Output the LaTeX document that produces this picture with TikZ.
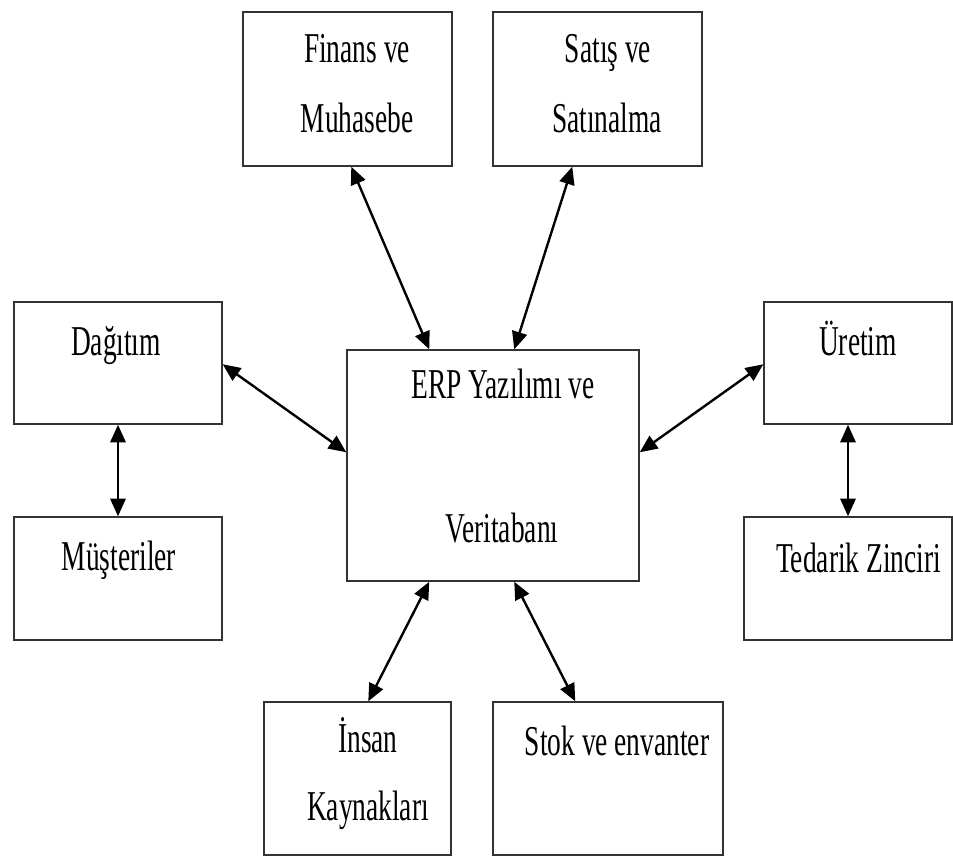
\documentclass[tikz,border=0pt]{standalone}
\usepackage{fontspec}
\setmainfont{Liberation Serif}
\usepackage{graphicx}
\usetikzlibrary{arrows.meta,calc}

\newcommand{\tallword}[1]{\scalebox{1}[1.55]{#1}}

\begin{document}
\begin{tikzpicture}[
  x=0.025cm, y=-0.025cm,
  font=\fontsize{19.5}{23}\selectfont,
  box/.style={draw=black!80, line width=1pt, rectangle, inner sep=0pt},
  txt/.style={inner sep=0pt, anchor=base},
  arr/.style={{Triangle[length=4.4mm,width=3.8mm]}-{Triangle[length=4.4mm,width=3.8mm]}, line width=1.7pt},
]
  \useasboundingbox (0,0) rectangle (953,856);

  % blocks
  \node[box, minimum width=5.225cm, minimum height=3.85cm] (fin) at (347.5,89) {};
  \node[box, minimum width=5.225cm, minimum height=3.85cm] (sat) at (597.5,89) {};
  \node[box, minimum width=5.2cm, minimum height=3.05cm] (dag) at (118,363) {};
  \node[box, minimum width=4.7cm, minimum height=3.05cm] (ure) at (858,363) {};
  \node[box, minimum width=7.3cm, minimum height=5.775cm] (erp) at (493,465.5) {};
  \node[box, minimum width=5.2cm, minimum height=3.075cm] (mus) at (118,578.5) {};
  \node[box, minimum width=5.2cm, minimum height=3.075cm] (ted) at (848,578.5) {};
  \node[box, minimum width=4.675cm, minimum height=3.825cm] (ins) at (357.5,778.5) {};
  \node[box, minimum width=5.75cm, minimum height=3.825cm] (stk) at (608,778.5) {};

  % texts
  \node[txt] (fin1) at (357,62) {\tallword{Finans ve}};
  \node[txt] (fin2) at (357,132) {\tallword{Muhasebe}};
  \node[txt] (sat1) at (608,62) {\tallword{Satış ve}};
  \node[txt] (sat2) at (607,132) {\tallword{Satınalma}};
  \node[txt] (dag1) at (116,355) {\tallword{Dağıtım}};
  \node[txt] (mus1) at (119,570) {\tallword{Müşteriler}};
  \node[txt] (ure1) at (858,355) {\tallword{Üretim}};
  \node[txt] (ted1) at (858.5,572) {\tallword{Tedarik Zinciri}};
  \node[txt] (erp1) at (503,398) {\tallword{ERP Yazılımı ve}};
  \node[txt] (erp2) at (502,542) {\tallword{Veritabanı}};
  \node[txt] (ins1) at (368,752) {\tallword{İnsan}};
  \node[txt] (ins2) at (368,820) {\tallword{Kaynakları}};
  \node[txt] (stk1) at (617,755) {\tallword{Stok ve envanter}};

  % links to the ERP block
  \draw[arr] ($(fin.south west)+(109,0)$) -- ($(erp.north west)+(83,0)$);
  \draw[arr] ($(sat.south west)+(80,0)$) -- ($(erp.north west)+(168,0)$);
  \draw[arr] ($(dag.north east)+(0,63)$) -- ($(erp.north west)+(0,103)$);
  \draw[arr] ($(ure.north west)+(0,63)$) -- ($(erp.north east)+(0,103)$);
  \draw[arr] ($(erp.south west)+(83,0)$) -- ($(ins.north west)+(105,0)$);
  \draw[arr] ($(erp.south west)+(168,0)$) -- ($(stk.north west)+(83,0)$);

  % side pairs
  \draw[arr] (dag.south) -- (mus.north);
  \draw[arr] (ure.south -| ted.north) -- (ted.north);
\end{tikzpicture}
\end{document}
